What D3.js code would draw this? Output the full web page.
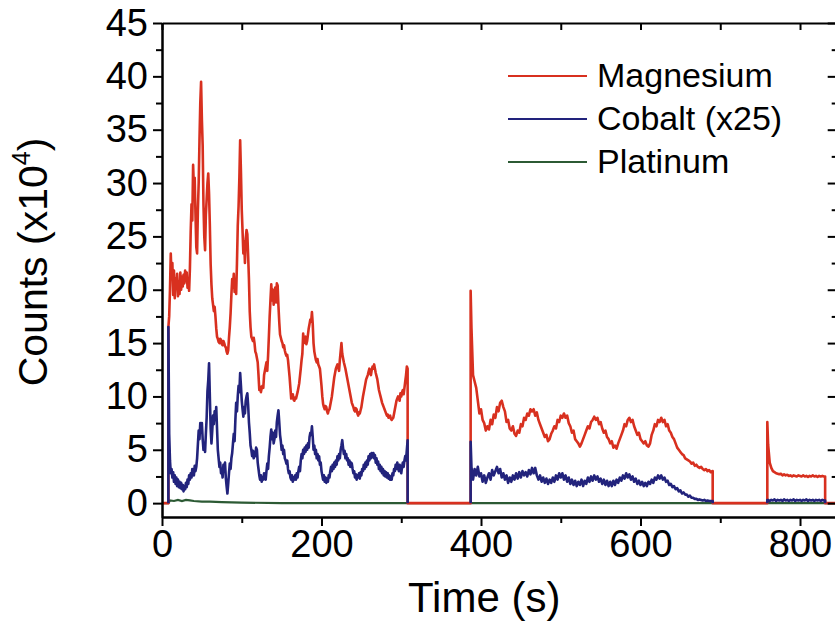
<!DOCTYPE html>
<html>
<head>
<meta charset="utf-8">
<script src="https://d3js.org/d3.v7.min.js"></script>
<style>
  body { margin: 0; background: #fff; }
  svg { font-family: 'Liberation Sans', Arial, Helvetica, sans-serif; }
</style>
</head>
<body>
<svg id="drawing_region"></svg>
<script>
// time windows where the signal is on (s)
const seg_on    = [8, 387, 759];
const seg_off   = [308, 690.5, 831.5];
const seg_first = [9, 388, 760];
const seg_step  = [1, 2, 2];

// value at the moment each window opens (x10^4 counts)
const mg_onset = [16.5, 19.9, 7.6];
const co_onset = [16.5, 5.75, 0.3];

// Magnesium, window 1 (t = 9..308, step 1)
const mg_seg1 = [
  17.5, 20.0, 23.4, 21.0, 22.5, 19.5, 21.8, 19.2, 21.0, 20.2,
  21.5, 19.4, 20.8, 19.6, 21.6, 20.0, 21.2, 20.3, 21.4, 20.6,
  21.8, 20.8, 21.6, 20.2, 21.0, 19.9, 22.0, 25.5, 28.0, 26.5,
  31.7, 29.5, 30.5, 27.0, 24.0, 23.4, 27.5, 30.0, 34.0, 37.5,
  39.5, 36.0, 33.5, 28.0, 25.0, 23.7, 27.0, 28.5, 30.0, 30.9,
  29.0, 26.0, 22.4, 20.5, 19.2, 18.6, 18.0, 18.4, 17.5, 16.4,
  15.6, 15.4, 15.1, 15.0, 15.4, 15.3, 14.9, 14.8, 15.2, 15.0,
  14.7, 14.6, 14.2, 14.0, 14.3, 15.5, 16.5, 17.8, 19.5, 21.0,
  20.2, 21.5, 19.8, 20.8, 19.6, 22.5, 26.0, 27.8, 30.5, 34.0,
  31.0, 27.5, 25.5, 23.4, 24.5, 22.5, 24.8, 25.6, 25.2, 23.2,
  21.0, 18.0, 16.5, 15.6, 15.4, 15.2, 15.5, 15.0, 14.2, 14.0,
  13.6, 13.2, 12.0, 10.6, 10.9, 10.4, 10.8, 11.0, 10.8, 12.0,
  12.4, 12.8, 13.2, 12.4, 13.8, 15.6, 17.5, 19.0, 20.5, 19.0,
  20.0, 18.6, 19.8, 20.2, 18.8, 20.6, 20.4, 18.5, 17.0, 15.8,
  15.5, 15.2, 15.0, 14.6, 14.8, 14.3, 14.0, 13.8, 13.9, 13.4,
  12.6, 11.8, 10.8, 9.8, 10.0, 10.2, 9.7, 9.6, 9.9, 9.8,
  10.1, 10.4, 10.8, 11.2, 11.9, 12.6, 13.4, 14.0, 15.9, 15.0,
  15.4, 15.6, 14.9, 15.2, 15.8, 16.4, 16.8, 17.2, 17.0, 17.9,
  16.8, 15.0, 14.2, 13.8, 13.4, 13.2, 13.5, 13.0, 12.8, 12.6,
  11.8, 11.0, 10.0, 9.3, 9.0, 8.8, 9.1, 9.0, 8.6, 8.4,
  8.7, 8.8, 9.2, 9.6, 10.0, 10.6, 11.2, 11.8, 12.2, 12.6,
  12.8, 13.0, 12.7, 12.4, 13.4, 14.2, 15.0, 14.0, 13.6, 13.2,
  12.9, 12.6, 12.2, 11.8, 11.4, 11.0, 10.6, 10.2, 9.8, 9.4,
  9.2, 9.0, 8.7, 8.6, 8.9, 8.8, 8.4, 8.2, 8.5, 8.4,
  8.7, 9.0, 9.5, 10.0, 10.4, 10.8, 11.2, 11.6, 11.8, 12.0,
  12.3, 12.6, 12.2, 12.0, 12.5, 12.8, 12.6, 13.0, 12.6, 12.2,
  11.9, 11.6, 11.1, 10.6, 10.3, 10.0, 9.7, 9.4, 9.2, 9.0,
  8.8, 8.6, 8.4, 8.2, 8.3, 8.0, 8.1, 8.2, 7.9, 7.8,
  7.9, 8.0, 8.4, 8.8, 9.2, 9.6, 9.8, 10.0, 9.8, 9.6,
  10.3, 10.0, 10.4, 10.6, 10.2, 10.8, 11.4, 12.0, 12.8, 12.6
];

// Magnesium, window 2 (t = 388..690, step 2)
const mg_seg2 = [
  16.5, 12.0, 11.4, 10.8, 9.6, 8.4, 8.8, 7.8, 7.5, 6.8,
  7.2, 6.9, 7.8, 7.4, 8.3, 8.0, 9.0, 8.6, 9.4, 9.6,
  9.0, 8.6, 7.6, 7.8, 7.0, 6.8, 7.2, 6.5, 6.3, 6.8,
  6.6, 7.4, 7.2, 8.0, 7.8, 8.4, 8.2, 8.8, 8.6, 8.8,
  8.2, 8.5, 7.8, 7.4, 7.0, 6.6, 6.2, 6.4, 5.8, 6.0,
  6.5, 6.8, 7.2, 7.0, 7.8, 7.6, 8.2, 8.0, 8.4, 8.0,
  8.2, 7.5, 7.2, 6.6, 6.8, 6.0, 5.8, 5.6, 5.3, 5.6,
  6.0, 6.4, 6.8, 7.2, 7.0, 7.6, 7.8, 8.1, 7.8, 8.0,
  7.4, 7.6, 7.0, 6.6, 6.8, 6.2, 6.0, 5.6, 5.8, 5.2,
  5.4, 5.1, 5.6, 6.0, 6.4, 6.8, 7.4, 7.2, 7.8, 8.0,
  7.6, 7.8, 7.2, 6.8, 6.4, 6.6, 6.0, 5.8, 5.6, 5.8,
  5.4, 5.3, 5.6, 6.4, 6.8, 7.4, 7.2, 7.8, 7.6, 8.0,
  7.6, 7.8, 7.2, 7.4, 6.8, 6.6, 6.2, 6.0, 5.6, 5.2,
  5.0, 4.8, 4.6, 4.5, 4.2, 4.1, 4.0, 3.9, 3.7, 3.8,
  3.5, 3.6, 3.4, 3.3, 3.4, 3.2, 3.1, 3.2, 3.0, 3.1,
  2.9, 3.0
];

// Magnesium, window 3 (t = 760..830, step 2)
const mg_seg3 = [
  5.5, 3.8, 3.3, 3.0, 2.9, 2.8, 2.75, 2.7, 2.75, 2.6,
  2.7, 2.6, 2.65, 2.55, 2.6, 2.5, 2.6, 2.55, 2.5, 2.6,
  2.55, 2.5, 2.6, 2.5, 2.55, 2.45, 2.55, 2.5, 2.6, 2.5,
  2.55, 2.45, 2.55, 2.5, 2.55, 2.5
];

// Cobalt (x25), window 1 (t = 9..308, step 1)
const co_seg1 = [
  6.5, 4.0, 2.8, 3.2, 2.4, 2.9, 2.0, 2.6, 1.8, 2.4,
  1.6, 2.2, 1.5, 2.0, 1.4, 1.9, 1.3, 1.7, 1.1, 1.6,
  1.3, 1.9, 1.5, 2.2, 1.8, 2.6, 2.2, 2.8, 2.4, 3.2,
  3.0, 2.6, 3.5, 3.0, 3.4, 4.2, 5.5, 6.8, 6.0, 7.5,
  6.6, 7.5, 6.0, 5.0, 5.6, 4.8, 6.5, 8.0, 10.5, 11.5,
  13.1, 10.0, 7.0, 5.6, 6.8, 8.2, 7.4, 8.6, 7.8, 9.0,
  7.0, 5.0, 4.2, 3.4, 3.8, 2.8, 3.1, 2.4, 3.6, 3.0,
  3.8, 2.4, 1.6, 0.9, 1.8, 2.8, 3.7, 3.2, 4.2, 4.7,
  5.6, 6.5, 5.8, 7.8, 9.4, 8.6, 10.0, 11.0, 10.4, 12.2,
  11.0, 9.6, 8.8, 8.1, 9.0, 8.4, 9.6, 10.0, 10.3, 9.2,
  7.6, 6.6, 5.4, 5.0, 4.4, 4.9, 4.2, 4.8, 4.4, 5.2,
  5.0, 3.8, 3.2, 2.6, 2.2, 2.6, 2.0, 2.4, 2.2, 2.8,
  2.4, 2.2, 3.0, 3.7, 3.2, 4.4, 5.2, 6.2, 6.9, 6.0,
  6.6, 5.6, 6.0, 6.8, 6.2, 7.6, 8.2, 8.7, 7.6, 6.4,
  5.8, 5.0, 5.4, 4.6, 5.0, 4.2, 4.0, 3.7, 4.0, 3.2,
  2.8, 3.0, 2.4, 2.2, 2.6, 2.0, 2.4, 2.2, 2.6, 2.2,
  2.8, 2.4, 3.0, 3.4, 3.0, 4.0, 4.6, 4.2, 5.0, 4.6,
  5.2, 4.8, 5.4, 5.0, 5.6, 5.2, 6.2, 6.6, 6.4, 7.2,
  6.2, 5.0, 5.4, 4.6, 5.0, 4.2, 4.6, 4.0, 4.4, 3.6,
  3.8, 3.0, 2.6, 2.2, 2.6, 2.0, 2.4, 1.9, 2.3, 2.0,
  2.6, 2.4, 3.0, 3.4, 3.0, 3.6, 3.2, 3.8, 3.4, 4.0,
  3.6, 4.4, 4.0, 4.6, 4.2, 5.0, 5.4, 5.9, 5.2, 4.6,
  4.9, 4.2, 4.6, 4.0, 4.2, 3.6, 4.0, 3.4, 3.8, 3.7,
  3.2, 2.8, 3.0, 2.4, 2.7, 2.2, 2.6, 2.4, 2.8, 2.3,
  2.9, 2.6, 3.2, 3.0, 3.6, 3.2, 3.8, 3.4, 4.0, 3.6,
  4.4, 4.0, 4.6, 4.2, 4.7, 4.3, 4.7, 4.2, 4.5, 3.8,
  4.2, 3.6, 3.9, 3.2, 3.6, 3.0, 3.4, 2.8, 3.2, 2.6,
  3.0, 2.5, 2.9, 2.4, 2.8, 2.3, 2.6, 2.2, 2.5, 2.2,
  2.8, 2.6, 3.2, 3.0, 3.6, 3.2, 3.8, 3.4, 3.0, 3.6,
  3.2, 2.8, 3.4, 3.8, 3.4, 4.0, 4.4, 4.0, 5.0, 5.9
];

// Cobalt (x25), window 2 (t = 388..690, step 2)
const co_seg2 = [
  3.4, 2.2, 3.2, 2.6, 3.4, 2.5, 2.8, 2.0, 2.6, 1.9,
  2.4, 2.8, 2.2, 3.1, 2.6, 3.0, 3.4, 2.8, 3.2, 2.4,
  2.8, 2.2, 2.6, 1.9, 2.4, 2.0, 2.6, 2.2, 2.8, 2.3,
  2.9, 2.4, 3.0, 2.6, 2.9, 2.5, 3.1, 2.7, 3.3, 2.8,
  3.3, 2.6, 2.2, 2.6, 2.0, 2.4, 1.9, 2.3, 1.8, 2.2,
  1.9, 2.4, 2.0, 2.6, 2.2, 2.8, 2.4, 2.8, 2.2, 2.6,
  2.0, 2.4, 1.8, 2.2, 1.7, 2.1, 1.6, 2.0, 1.7, 2.2,
  1.6, 2.1, 1.8, 2.4, 2.0, 2.5, 2.1, 2.6, 2.2, 2.5,
  2.0, 2.3, 1.8, 2.2, 1.7, 2.1, 1.6, 2.0, 1.6, 2.1,
  1.7, 2.2, 1.9, 2.4, 2.1, 2.6, 2.3, 2.8, 2.4, 2.7,
  2.2, 2.5, 2.0, 2.3, 1.8, 2.1, 1.7, 2.0, 1.6, 1.9,
  1.6, 2.0, 1.8, 2.2, 1.9, 2.4, 2.2, 2.6, 2.3, 2.6,
  2.2, 2.4, 2.0, 2.1, 1.7, 1.8, 1.5, 1.6, 1.3, 1.4,
  1.1, 1.2, 0.9, 1.0, 0.8, 0.8, 0.6, 0.7, 0.5, 0.5,
  0.4, 0.4, 0.3, 0.35, 0.3, 0.25, 0.3, 0.2, 0.25, 0.2,
  0.2, 0.2
];

// Cobalt (x25), window 3 (t = 760..830, step 2)
const co_seg3 = [
  0.3, 0.2, 0.3, 0.25, 0.35, 0.2, 0.3, 0.25, 0.3, 0.2,
  0.35, 0.25, 0.3, 0.2, 0.3, 0.25, 0.35, 0.2, 0.3, 0.25,
  0.3, 0.2, 0.3, 0.25, 0.35, 0.2, 0.3, 0.25, 0.3, 0.2,
  0.3, 0.25, 0.3, 0.2, 0.3, 0.25
];

// Platinum
const pt_time  = [0, 8, 10, 15, 20, 25, 30, 35, 40, 50, 60, 75, 100, 150, 846];
const pt_value = [0, 0, 0.25, 0.2, 0.3, 0.2, 0.3, 0.25, 0.2, 0.15, 0.15, 0.1, 0.05, 0, 0];

const series_names = ['Magnesium', 'Cobalt (x25)', 'Platinum'];
const series_colors = ['#d8301f', '#22237c', '#2c5a34'];

const x_major = [0, 200, 400, 600, 800];
const x_minor = [100, 300, 500, 700];
const y_major = [0, 5, 10, 15, 20, 25, 30, 35, 40, 45];
const y_minor = [2.5, 7.5, 12.5, 17.5, 22.5, 27.5, 32.5, 37.5, 42.5];

class TimeSeriesChart {

    constructor( config ) {
        this.config = config;
        this.init();
    }

    init() {
        let self = this;

        self.svg = d3.select( self.config.parent )
            .attr('width', self.config.width)
            .attr('height', self.config.height);

        self.inner_width = self.config.width_plot;
        self.inner_height = self.config.height_plot;

        self.chart = self.svg.append('g')
            .attr('transform', `translate(${self.config.margin.left}, ${self.config.margin.top})`);

        self.x_scale = d3.scaleLinear()
            .domain( [0, 846] )
            .range( [0, self.inner_width] );

        self.y_scale = d3.scaleLinear()
            .domain( [-1.3, 45] )
            .range( [self.inner_height, 0] );
    }

    segment( i, onset, values ) {
        let pts = [[seg_on[i], 0], [seg_on[i], onset]];
        values.forEach( (v, k) => pts.push( [seg_first[i] + k * seg_step[i], v] ) );
        pts.push( [seg_off[i], values[values.length - 1]] );
        pts.push( [seg_off[i], 0] );
        return pts;
    }

    render() {
        let self = this;

        const line = d3.line()
            .x( d => self.x_scale( d[0] ) )
            .y( d => self.y_scale( d[1] ) );

        // platinum
        const pt = pt_time.map( (t, i) => [t, pt_value[i]] );
        self.chart.append('path')
            .attr('d', line( pt ))
            .attr('fill', 'none')
            .attr('stroke', series_colors[2])
            .attr('stroke-width', 2.2);

        // magnesium, zero between windows
        const mg = [[0, 0]]
            .concat( self.segment(0, mg_onset[0], mg_seg1) )
            .concat( self.segment(1, mg_onset[1], mg_seg2) )
            .concat( self.segment(2, mg_onset[2], mg_seg3) )
            .concat( [[846, 0]] );
        self.chart.append('path')
            .attr('d', line( mg ))
            .attr('fill', 'none')
            .attr('stroke', series_colors[0])
            .attr('stroke-width', 2.6)
            .attr('stroke-linejoin', 'round');

        // cobalt
        [co_seg1, co_seg2, co_seg3].forEach( (vals, i) => {
            self.chart.append('path')
                .attr('d', line( self.segment(i, co_onset[i], vals) ))
                .attr('fill', 'none')
                .attr('stroke', series_colors[1])
                .attr('stroke-width', 2.6)
                .attr('stroke-linejoin', 'round');
        });

        // axes
        const fs = 38;
        const bottom_major = d3.axisBottom( self.x_scale ).tickValues( x_major ).tickSize(9).tickPadding(4).tickSizeOuter(0);
        const bottom_minor = d3.axisBottom( self.x_scale ).tickValues( x_minor ).tickSize(6).tickFormat('').tickSizeOuter(0);
        const top_ticks = d3.axisTop( self.x_scale ).tickValues( x_major.concat( x_minor ) ).tickSize(-7).tickFormat('').tickSizeOuter(0);
        const left_major = d3.axisLeft( self.y_scale ).tickValues( y_major ).tickSize(9).tickPadding(5).tickSizeOuter(0);
        const left_minor = d3.axisLeft( self.y_scale ).tickValues( y_minor ).tickSize(6).tickFormat('').tickSizeOuter(0);
        const right_major = d3.axisRight( self.y_scale ).tickValues( y_major ).tickSize(-9).tickFormat('').tickSizeOuter(0);
        const right_minor = d3.axisRight( self.y_scale ).tickValues( y_minor ).tickSize(-5).tickFormat('').tickSizeOuter(0);

        const groups = [
            [bottom_major, `translate(0, ${self.inner_height})`],
            [bottom_minor, `translate(0, ${self.inner_height})`],
            [top_ticks, 'translate(0, 0)'],
            [left_major, 'translate(0, 0)'],
            [left_minor, 'translate(0, 0)'],
            [right_major, `translate(${self.inner_width}, 0)`],
            [right_minor, `translate(${self.inner_width}, 0)`]
        ];
        groups.forEach( g => {
            const ax = self.chart.append('g')
                .attr('transform', g[1])
                .call( g[0] );
            ax.selectAll('path, line')
                .attr('stroke', '#000')
                .attr('stroke-width', 2);
            ax.selectAll('text')
                .attr('fill', '#000')
                .style('font-family', "'Liberation Sans', Arial, sans-serif")
                .style('font-size', fs + 'px');
        });

        // axis titles
        self.svg.append('text')
            .attr('x', self.config.margin.left + self.x_scale(404))
            .attr('y', 612)
            .attr('text-anchor', 'middle')
            .style('font-size', '42px')
            .text('Time (s)');

        const ytitle = self.svg.append('text')
            .attr('transform', `translate(47, 262) rotate(-90)`)
            .attr('text-anchor', 'middle')
            .style('font-size', '41px');
        ytitle.append('tspan').text('Counts (x10');
        ytitle.append('tspan').attr('dy', -17).style('font-size', '25px').text('4');
        ytitle.append('tspan').attr('dy', 17).text(')');

        // legend
        const legend = self.svg.append('g')
            .attr('transform', 'translate(508, 76)');
        series_names.forEach( (name, i) => {
            legend.append('line')
                .attr('x1', 0).attr('x2', 79)
                .attr('y1', i * 43).attr('y2', i * 43)
                .attr('stroke', series_colors[i])
                .attr('stroke-width', 1.8);
            legend.append('text')
                .attr('x', 89)
                .attr('y', i * 43 + 11)
                .style('font-size', '34px')
                .text(name);
        });
    }
}

let config = {
    parent: '#drawing_region',
    width: 835,
    height: 621,
    margin: {top: 23, left: 162},
    width_plot: 674.7,
    height_plot: 494
};

const chart = new TimeSeriesChart( config );
chart.render();
</script>
</body>
</html>
